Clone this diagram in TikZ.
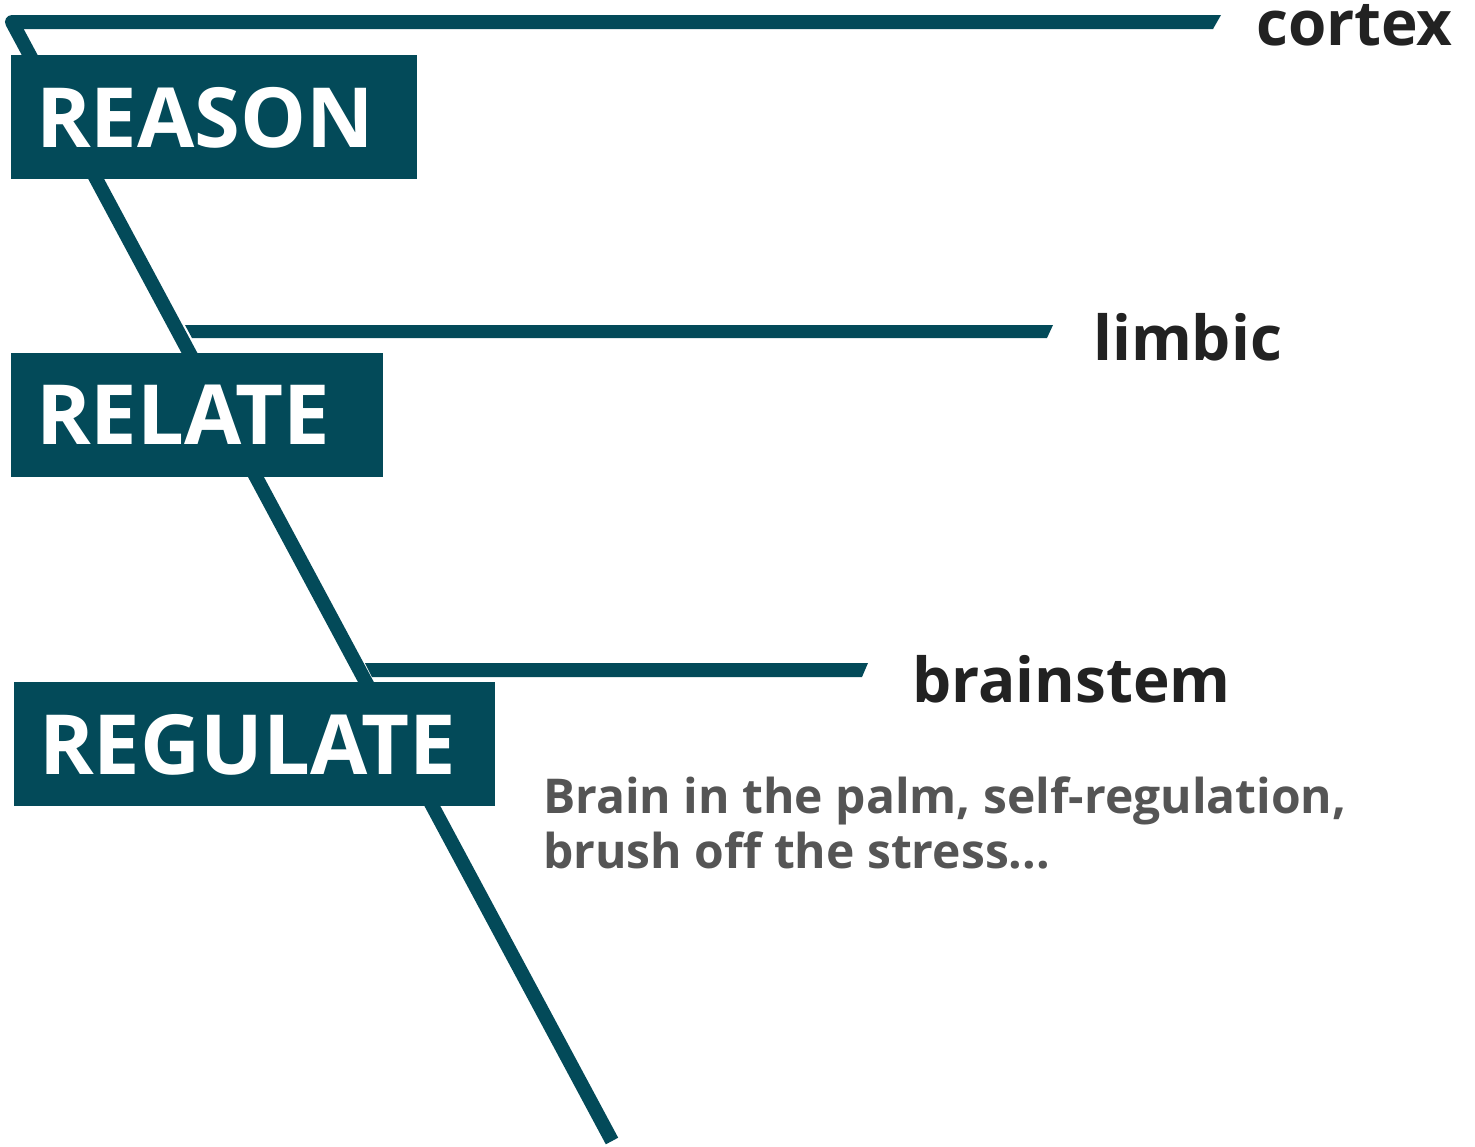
\documentclass[tikz,border=0pt]{standalone}
\usepackage{fontspec}
\setmainfont{Open Sans}
\usetikzlibrary{positioning}

\definecolor{brainteal}{HTML}{034A59}
\definecolor{labeldark}{HTML}{222222}
\definecolor{notegray}{HTML}{555555}

\tikzset{
  spine/.style={draw=brainteal, line width=14pt, line join=round},
  stage/.style={fill=brainteal, text=white, anchor=north west, align=left,
    font=\bfseries\fontsize{83}{83}\selectfont, minimum height=124pt,
    inner xsep=25pt, text depth=0pt},
  level/.style={text=labeldark, anchor=base west, inner sep=0pt,
    font=\bfseries\fontsize{62}{62}\selectfont},
  note/.style={text=notegray, anchor=base west, inner sep=0pt, align=left,
    font=\bfseries\fontsize{48}{55}\selectfont}
}

\begin{document}
\begin{tikzpicture}[x=1pt, y=-1pt]
  \useasboundingbox (0,0) rectangle (1475,1146);

  % Define coordinates
  \coordinate (K) at (12,22);
  \coordinate (T) at (612,1141);

  % Spine and levels
  \draw[spine] (1213,22) -- (K) -- (T);
  \fill[brainteal] (1213,15) -- (1221,15) -- (1213,29) -- cycle;
  \fill[brainteal] (185,325) -- (1053,325) -- (1047,338) -- (192,338) -- cycle;
  \fill[brainteal] (365,663) -- (868,663) -- (862,677) -- (372,677) -- cycle;

  % Define nodes
  \node[stage, text width=356pt] (R1) at (11,55) {REASON};
  \node[stage, text width=322pt] (R2) at (11,353) {RELATE};
  \node[stage, text width=431pt] (R3) at (14,682) {REGULATE};

  \node[level] (C) at (1256,45) {cortex};
  \node[level] (L) at (1093,360) {limbic};
  \node[level] (B) at (912,702) {brainstem};

  % base anchor sits on the last line
  \node[note] (N) at (543,868) {Brain in the palm, self-regulation,\\brush off the stress...};
\end{tikzpicture}
\end{document}
